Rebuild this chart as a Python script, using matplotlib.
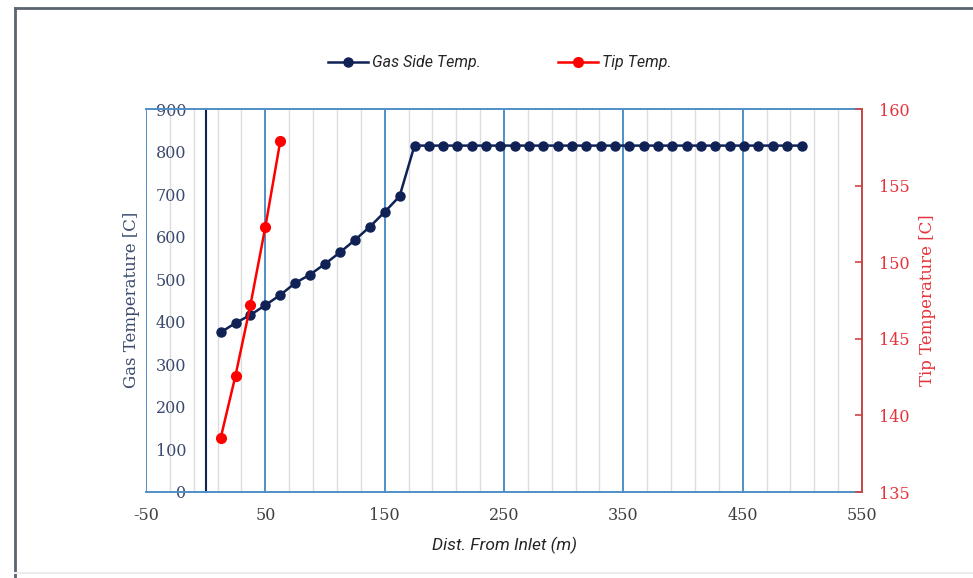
import matplotlib
matplotlib.use("Agg")
import matplotlib.pyplot as plt
import numpy as np
from matplotlib.lines import Line2D
from matplotlib.ticker import FixedLocator

plt.rcParams["axes.unicode_minus"] = False

# ---- data ----
gas_x = [12.5, 25, 37.5, 50, 62.5, 75, 87.5, 100, 112.5, 125, 137.5, 150, 162.5,
         175, 187, 199, 211, 223, 235, 247, 259, 271, 283, 295, 307, 319, 331,
         343, 355, 367, 379, 391, 403, 415, 427, 439, 451, 463, 475, 487, 500]
gas_y = [375, 397, 416, 439, 463, 491, 511, 536, 563, 592, 623, 658, 695,
         814, 814, 814, 814, 814, 814, 814, 814, 814, 814, 814, 814, 814, 814,
         814, 814, 814, 814, 814, 814, 814, 814, 814, 814, 814, 814, 814, 814]
tip_x = [12.5, 25, 37.5, 50, 62.5]
tip_y = [138.5, 142.6, 147.2, 152.3, 157.9]

x_ticks = [-50, 50, 150, 250, 350, 450, 550]
y_left_ticks = [0, 100, 200, 300, 400, 500, 600, 700, 800, 900]
y_right_ticks = [135, 140, 145, 150, 155, 160]

NAVY = "#0f2155"
RED = "#ff0000"
BLUE = "#4f8fc7"
LBLUE_TXT = "#3b4a6e"
RED_SPINE = "#cc4444"
RED_TXT = "#e5333a"

serif = "DejaVu Serif"
ital = ["Roboto", "DejaVu Sans"]

W, H = 973, 578
fig = plt.figure(figsize=(W / 100, H / 100), dpi=100)
fig.patch.set_facecolor("white")

ax = fig.add_axes([146 / W, 1 - 492 / H, (862 - 146) / W, (492 - 109) / H])
ax.set_xlim(-50, 550)
ax.set_ylim(0, 900)

# gridlines
ax.xaxis.set_major_locator(FixedLocator(x_ticks))
ax.xaxis.set_minor_locator(FixedLocator(np.arange(-50, 551, 20)))
ax.grid(True, which="minor", axis="x", color="#dcdcdc", linewidth=1.0)
ax.grid(True, which="major", axis="x", color=BLUE, linewidth=1.4)
ax.set_axisbelow(True)
ax.tick_params(axis="x", which="both", length=0, pad=11,
               labelsize=11.5, labelcolor="#404040", labelfontfamily=serif)

ax.set_yticks(y_left_ticks)
ax.tick_params(axis="y", length=0, pad=14, labelsize=11.5, labelcolor=LBLUE_TXT,
               labelfontfamily=serif)

ax.spines["left"].set_position(("data", 0))
ax.spines["left"].set_color(NAVY)
ax.spines["left"].set_linewidth(1.5)
for s in ("top", "bottom"):
    ax.spines[s].set_color(BLUE)
    ax.spines[s].set_linewidth(1.4)
ax.spines["right"].set_visible(False)

ax.plot(gas_x, gas_y, color=NAVY, linewidth=1.8, marker="o", markersize=6.5,
        label="Gas Side Temp.", zorder=3)

ax.set_xlabel("Dist. From Inlet (m)", fontsize=12.5, fontstyle="italic",
              family=ital, color="#262626", labelpad=9)
fig.text(131 / W, 1 - 300 / H, "Gas Temperature [C]", rotation=90,
         ha="center", va="center", fontsize=12, color=LBLUE_TXT, family=serif)

ax2 = ax.twinx()
ax2.set_ylim(135, 160)
ax2.set_yticks(y_right_ticks)
ax2.tick_params(axis="y", direction="in", length=5, width=1.2, color=RED_SPINE,
                pad=12, labelsize=11.5, labelcolor=RED_TXT, labelfontfamily=serif)
for s in ("top", "bottom", "left"):
    ax2.spines[s].set_visible(False)
ax2.spines["right"].set_color(RED_SPINE)
ax2.spines["right"].set_linewidth(1.4)
ax2.plot(tip_x, tip_y, color=RED, linewidth=1.8, marker="o", markersize=7,
         label="Tip Temp.", zorder=3)
fig.text(928 / W, 1 - 300 / H, "Tip Temperature [C]", rotation=90,
         ha="center", va="center", fontsize=12, color=RED_TXT, family=serif)

# legend
h1, l1 = ax.get_legend_handles_labels()
h2, l2 = ax2.get_legend_handles_labels()
leg = fig.legend(h1 + h2, l1 + l2, loc="center", bbox_to_anchor=(500 / W, 1 - 63 / H),
                 ncol=2, frameon=False, handlelength=2.5, handletextpad=0.25,
                 columnspacing=4.8,
                 prop={"family": ital, "style": "italic", "size": 11.5})
for t in leg.get_texts():
    t.set_color("#262626")

# outer frame
fig.add_artist(Line2D([15 / W, 1], [1 - 8 / H, 1 - 8 / H], transform=fig.transFigure,
                      color="#5b6473", linewidth=2))
fig.add_artist(Line2D([15 / W, 15 / W], [1 - 8 / H, 0], transform=fig.transFigure,
                      color="#5b6473", linewidth=2))
fig.add_artist(Line2D([15 / W, 1], [1 - 573 / H, 1 - 573 / H], transform=fig.transFigure,
                      color="#ececec", linewidth=1.5))

fig.savefig("out.png", dpi=100)
